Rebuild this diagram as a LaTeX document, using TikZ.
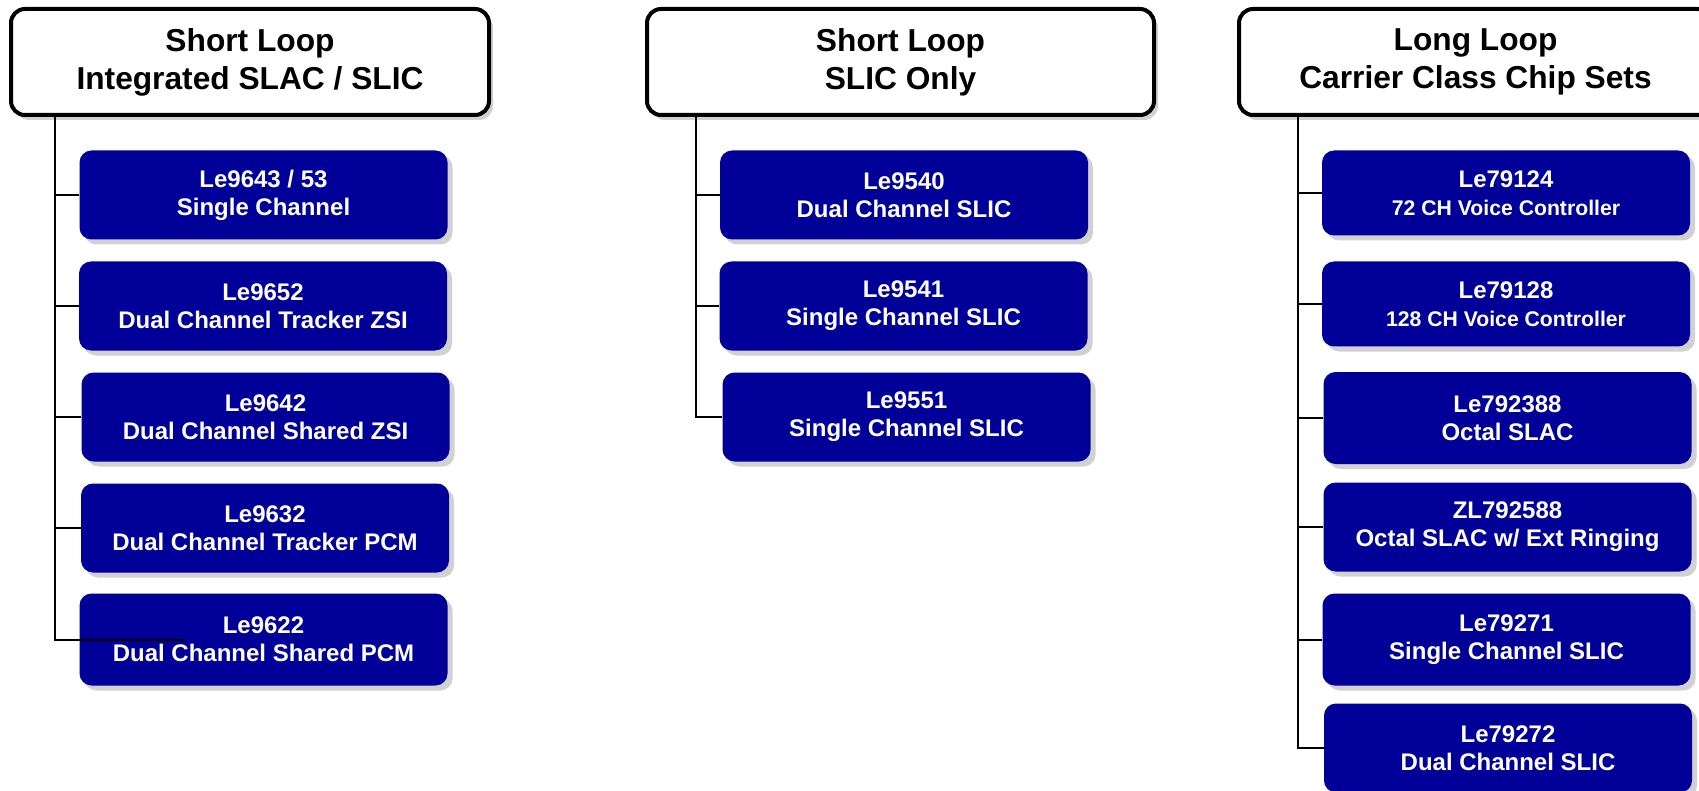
\documentclass[tikz,border=0pt]{standalone}
\usepackage{fontspec}
\setmainfont{Liberation Sans}
\usepackage{xcolor}
\usetikzlibrary{shadows}

\definecolor{chipblue}{RGB}{0,0,153}

\begin{document}
\begin{tikzpicture}[
    x=1pt, y=-1pt,
    family/.style={
        draw=black,
        line width=4pt,
        rounded corners=14pt,
        fill=white,
        minimum height=106pt,
        inner sep=0pt,
        align=center,
        font=\bfseries\fontsize{31.7}{38}\selectfont,
        drop shadow={shadow xshift=4pt, shadow yshift=-5pt, fill=black!40, opacity=.45}
    },
    chip/.style={
        fill=chipblue,
        text=white,
        rounded corners=12pt,
        minimum width=368pt,
        minimum height=89pt,
        inner sep=0pt,
        align=center,
        font=\bfseries\fontsize{24}{28}\selectfont,
        drop shadow={shadow xshift=5pt, shadow yshift=-5pt, fill=black!40, opacity=.45}
    },
    branch/.style={draw, line width=2pt}
]
    \useasboundingbox (0,0) rectangle (1699,791);

    \node[family, minimum width=478pt] (slacslic) at (250,62)
        {Short Loop\\Integrated SLAC / SLIC};
    \node[family, minimum width=507pt] (sliconly) at (900.5,62)
        {Short Loop\\SLIC Only};
    \node[family, minimum width=473pt] (longloop) at (1475.5,62)
        {Long Loop\\Carrier Class Chip Sets};

    \coordinate (trunkslac) at (55,117);
    \coordinate (trunkslic) at (696,117);
    \coordinate (trunklong) at (1298,117);

    % integrated SLAC / SLIC
    \node[chip] (le9643) at (263.5,195) {Le9643 / 53\\Single Channel};
    \node[chip] (le9652) at (263,306) {Le9652\\Dual Channel Tracker ZSI};
    \node[chip] (le9642) at (265.5,417) {Le9642\\Dual Channel Shared ZSI};
    \node[chip] (le9632) at (265,528) {Le9632\\Dual Channel Tracker PCM};
    \node[chip, minimum height=92pt] (le9622) at (263.5,639.5) {Le9622\\Dual Channel Shared PCM};

    % SLIC only
    \node[chip] (le9540) at (904,195) {Le9540\\Dual Channel SLIC};
    \node[chip] (le9541) at (903.5,306) {Le9541\\Single Channel SLIC};
    \node[chip] (le9551) at (906.5,417) {Le9551\\Single Channel SLIC};

    % carrier class
    \node[chip, minimum height=85pt] (le79124) at (1506,193)
        {Le79124\\{\fontsize{21.2}{26}\selectfont 72 CH Voice Controller}};
    \node[chip, minimum height=85pt] (le79128) at (1506,304)
        {Le79128\\{\fontsize{21.2}{26}\selectfont 128 CH Voice Controller}};
    \node[chip, minimum height=92pt] (le792388) at (1507.5,418) {Le792388\\Octal SLAC};
    \node[chip] (zl792588) at (1507.5,527) {ZL792588\\Octal SLAC w/ Ext Ringing};
    \node[chip, minimum height=92pt] (le79271) at (1506.5,639.5) {Le79271\\Single Channel SLIC};
    \node[chip] (le79272) at (1508,748) {Le79272\\Dual Channel SLIC};

    \draw[branch] (trunkslac) |- ([xshift=106pt]le9622.west);
    \draw[branch] (le9643.west) -- (le9643.west -| trunkslac);
    \draw[branch] (le9652.west) -- (le9652.west -| trunkslac);
    \draw[branch] (le9642.west) -- (le9642.west -| trunkslac);
    \draw[branch] (le9632.west) -- (le9632.west -| trunkslac);

    \draw[branch] (trunkslic) |- (le9551.west);
    \draw[branch] (le9540.west) -- (le9540.west -| trunkslic);
    \draw[branch] (le9541.west) -- (le9541.west -| trunkslic);

    \draw[branch] (trunklong) |- (le79272.west);
    \draw[branch] (le79124.west) -- (le79124.west -| trunklong);
    \draw[branch] (le79128.west) -- (le79128.west -| trunklong);
    \draw[branch] (le792388.west) -- (le792388.west -| trunklong);
    \draw[branch] (zl792588.west) -- (zl792588.west -| trunklong);
    \draw[branch] (le79271.west) -- (le79271.west -| trunklong);
\end{tikzpicture}
\end{document}
